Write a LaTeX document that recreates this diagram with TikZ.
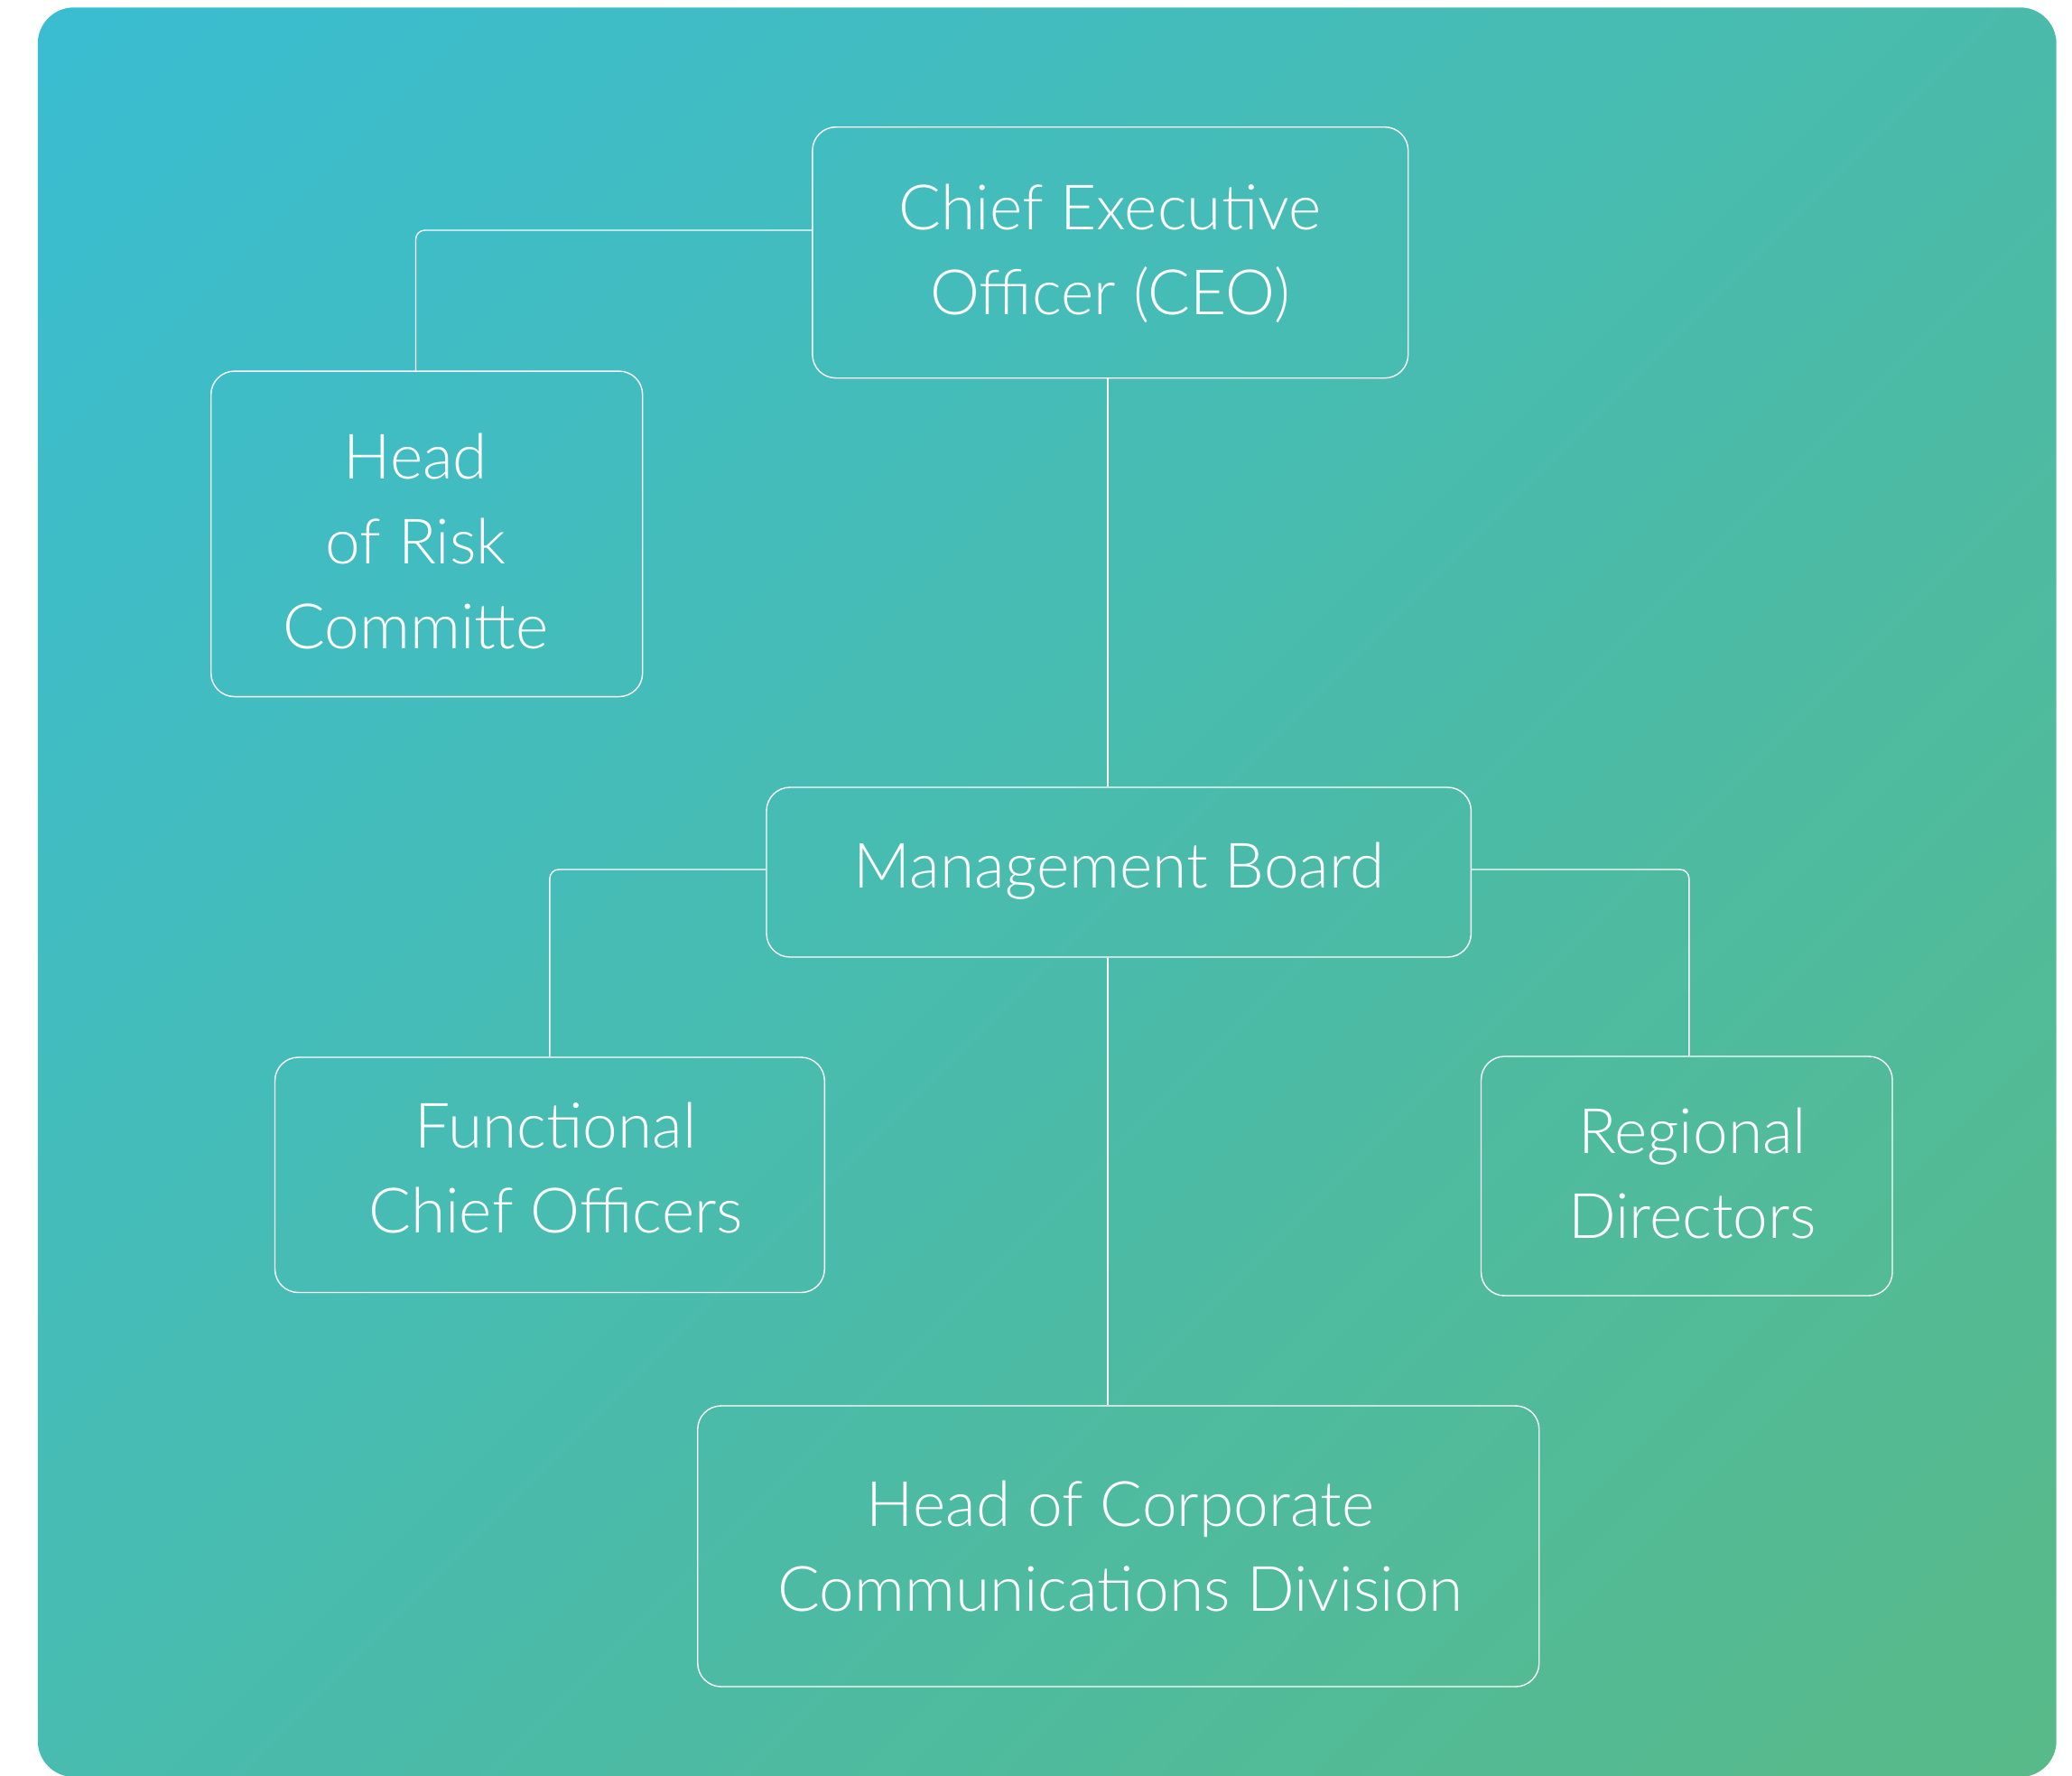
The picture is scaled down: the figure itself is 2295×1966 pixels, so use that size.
\documentclass[tikz,border=0pt]{standalone}
\usepackage{fontspec}
\setmainfont{Lato Light}[Ligatures={Common,Rare}]
\definecolor{bgA}{RGB}{58,189,210}
\definecolor{bgB}{RGB}{88,186,136}
\pgfdeclareverticalshading{diagbg}{100bp}{color(0bp)=(bgB); color(14.6bp)=(bgB); color(85.4bp)=(bgA); color(100bp)=(bgA)}
\begin{document}
\begin{tikzpicture}[x=0.5pt,y=-0.5pt,
  box/.style={draw=white, line width=0.7pt, rounded corners=13pt, inner sep=0pt},
  lbl/.style={text=white, align=center, font=\fontsize{34.7}{47}\selectfont, inner sep=0pt},
  conn/.style={draw=white, line width=0.7pt, rounded corners=5pt}]
\fill[white] (0,0) rectangle (2295,1966);
\useasboundingbox (0,0) rectangle (2295,1966);
\shade[shading=diagbg, shading angle=45, rounded corners=20pt] (41.8,8.3) rectangle (2277.7,1968);

% boxes
\node[box, minimum width=329.9pt, minimum height=139pt] (ceo) at (1229.8,279.7) {};
\node[box, minimum width=239pt, minimum height=180.25pt] (risk) at (472.7,591.3) {};
\node[box, minimum width=390.2pt, minimum height=94pt] (mb) at (1239.2,966) {};
\node[box, minimum width=304.4pt, minimum height=130.25pt] (fco) at (608.9,1301.25) {};
\node[box, minimum width=227.75pt, minimum height=132.5pt] (rd) at (1868.25,1302.5) {};
\node[box, minimum width=466pt, minimum height=155.5pt] (hcc) at (1238.75,1712.5) {};

% labels
\node[lbl] (ceoT) at (1229.5,279.5) {\vphantom{(}Chief Executive\\\vphantom{(}Officer (CEO)};
\node[lbl] (riskT) at (460.5,603) {\vphantom{(}Head\\\vphantom{(}of Risk\\\vphantom{(}Committe};
\node[lbl] (mbT) at (1239.5,963.5) {\vphantom{(}Management Board};
\node[lbl] (fcoT) at (615.5,1296.8) {\vphantom{(}Functional\\\vphantom{(}Chief Officers};
\node[lbl] (rdT) at (1874.6,1303) {\vphantom{(}Regional\\\vphantom{(}Direc\kern0pt tors};
\node[lbl] (hccT) at (1241,1715.9) {\vphantom{(}Head of Corporate\\\vphantom{(}Communications Division};

% connectors
\coordinate (spine) at (1227,0);
\draw[conn] ([yshift=12.35pt]ceo.west) -| ([xshift=-6.1pt]risk.north);
\draw[conn] (spine |- ceo.south) -- (spine |- mb.north);
\draw[conn] ([yshift=1.5pt]mb.west) -| (fco.north);
\draw[conn] ([yshift=1.5pt]mb.east) -| ([xshift=1.3pt]rd.north);
\draw[conn] (spine |- mb.south) -- (spine |- hcc.north);
\end{tikzpicture}
\end{document}
